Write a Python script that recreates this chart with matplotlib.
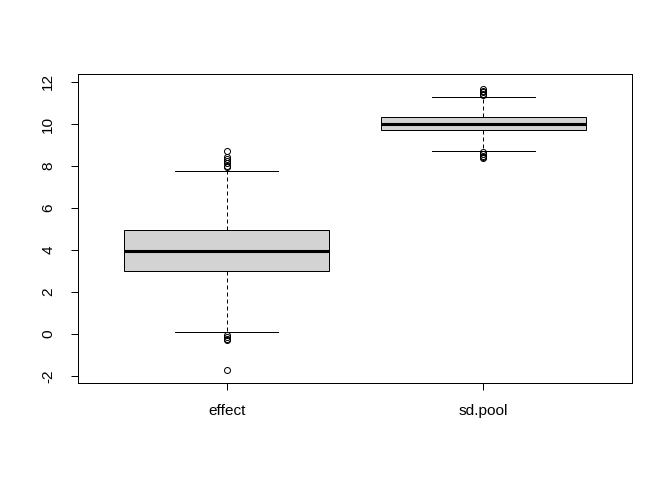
import matplotlib
matplotlib.use("Agg")
import matplotlib.pyplot as plt

# box statistics
labels = ["effect", "sd.pool"]
q1 = [3.00, 9.71]
med = [3.96, 10.00]
q3 = [4.95, 10.33]
whislo = [0.10, 8.71]
whishi = [7.76, 11.29]
fliers_effect = [8.72, 8.45, 8.32, 8.22, 8.12, 8.02, 7.93,
                 -0.06, -0.14, -0.22, -0.28, -1.71]
fliers_sdpool = [11.66, 11.58, 11.50, 11.43, 11.36,
                 8.65, 8.57, 8.49, 8.42, 8.36]
fliers = [fliers_effect, fliers_sdpool]

plt.rcParams["font.family"] = ["Liberation Sans", "DejaVu Sans"]

stats = []
for i in range(len(labels)):
    stats.append({"label": labels[i], "med": med[i], "q1": q1[i], "q3": q3[i],
                  "whislo": whislo[i], "whishi": whishi[i], "fliers": fliers[i]})

fig = plt.figure(figsize=(7, 5), dpi=96)
ax = fig.add_axes([78/672, 1-383/480, (632-78)/672, (383-74)/480])

ax.bxp(stats, positions=[1, 2], widths=0.8, patch_artist=True,
       boxprops=dict(facecolor="#D3D3D3", edgecolor="black", linewidth=0.75),
       medianprops=dict(color="black", linewidth=2.3, solid_capstyle="butt"),
       whiskerprops=dict(color="black", linewidth=0.75, linestyle=(0, (4, 3))),
       capprops=dict(color="black", linewidth=0.75),
       capwidths=0.4,
       flierprops=dict(marker="o", markerfacecolor="none", markeredgecolor="black",
                       markersize=4.5, markeredgewidth=0.75))

ax.set_xlim(0.42, 2.58)
ax.set_ylim(-2.33, 12.38)
ax.set_yticks([-2, 0, 2, 4, 6, 8, 10, 12])
ax.set_yticklabels(["-2", "0", "2", "4", "6", "8", "10", "12"],
                   rotation=90, va="center")
ax.set_xticks([1, 2])
ax.set_xticklabels(labels)
ax.tick_params(axis="both", labelsize=11.5, length=5, width=0.75, color="black")
ax.tick_params(axis="x", pad=11)
ax.tick_params(axis="y", pad=12)
for s in ax.spines.values():
    s.set_linewidth(0.75)

fig.savefig("out.png", dpi=96)
